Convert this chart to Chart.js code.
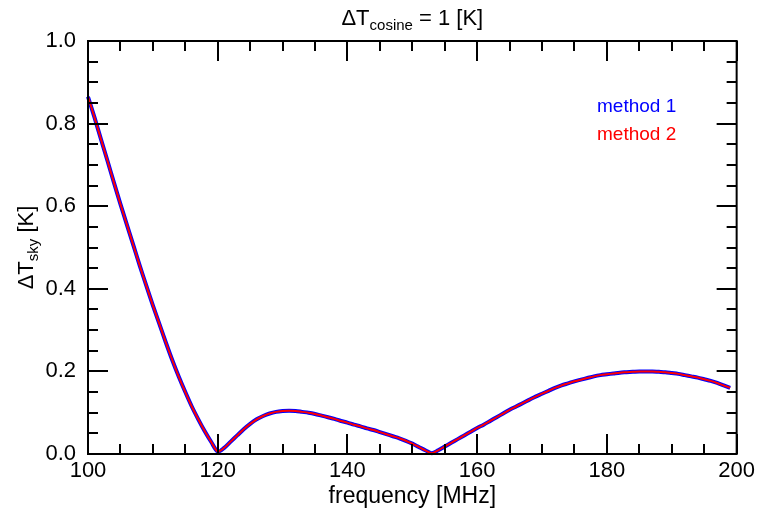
<!DOCTYPE html>
<html>
<head>
<meta charset="utf-8">
<script src="https://cdn.jsdelivr.net/npm/chart.js@4.4.1/dist/chart.umd.min.js"></script>
<style>
  body { margin: 0; background: #fff; }
  #wrap { width: 759px; height: 517px; }
</style>
</head>
<body>
<div id="wrap"><canvas id="skyChart" width="759" height="517"></canvas></div>
<script>
// frequency grid in MHz
const frequencies = [
  100, 101, 102, 103, 104, 105, 106, 107, 108, 109,
  110, 111, 112, 113, 114, 115, 116, 117, 118, 119,
  120, 121, 122, 123, 124, 125, 126, 127, 128, 129,
  130, 131, 132, 133, 134, 135, 136, 137, 138, 139,
  140, 141, 142, 143, 144, 145, 146, 147, 148, 149,
  150, 151, 152, 153, 154, 155, 156, 157, 158, 159,
  160, 161, 162, 163, 164, 165, 166, 167, 168, 169,
  170, 171, 172, 173, 174, 175, 176, 177, 178, 179,
  180, 181, 182, 183, 184, 185, 186, 187, 188, 189,
  190, 191, 192, 193, 194, 195, 196, 197, 198, 199
];

// delta T sky [K], method 1
const methodOne = [
  0.865, 0.815, 0.762, 0.710, 0.657, 0.605, 0.555, 0.505, 0.455, 0.407,
  0.360, 0.315, 0.270, 0.227, 0.187, 0.150, 0.115, 0.084, 0.055, 0.029,
  0.006, 0.015, 0.030, 0.045, 0.060, 0.073, 0.084, 0.092, 0.098, 0.102,
  0.104, 0.105, 0.104, 0.102, 0.100, 0.097, 0.093, 0.089, 0.085, 0.080,
  0.076, 0.071, 0.067, 0.062, 0.058, 0.053, 0.048, 0.043, 0.038, 0.032,
  0.025, 0.017, 0.009, 0.002, 0.009, 0.018, 0.027, 0.036, 0.045, 0.054,
  0.063, 0.071, 0.080, 0.089, 0.098, 0.107, 0.115, 0.123, 0.131, 0.139,
  0.146, 0.153, 0.160, 0.166, 0.171, 0.176, 0.180, 0.184, 0.188, 0.191,
  0.193, 0.195, 0.197, 0.198, 0.199, 0.200, 0.200, 0.200, 0.199, 0.198,
  0.196, 0.194, 0.191, 0.188, 0.185, 0.181, 0.177, 0.172, 0.166, 0.160
];

// delta T sky [K], method 2 (lies on top of method 1)
const methodTwo = [
  0.865, 0.815, 0.762, 0.710, 0.657, 0.605, 0.555, 0.505, 0.455, 0.407,
  0.360, 0.315, 0.270, 0.227, 0.187, 0.150, 0.115, 0.084, 0.055, 0.029,
  0.006, 0.015, 0.030, 0.045, 0.060, 0.073, 0.084, 0.092, 0.098, 0.102,
  0.104, 0.105, 0.104, 0.102, 0.100, 0.097, 0.093, 0.089, 0.085, 0.080,
  0.076, 0.071, 0.067, 0.062, 0.058, 0.053, 0.048, 0.043, 0.038, 0.032,
  0.025, 0.017, 0.009, 0.002, 0.009, 0.018, 0.027, 0.036, 0.045, 0.054,
  0.063, 0.071, 0.080, 0.089, 0.098, 0.107, 0.115, 0.123, 0.131, 0.139,
  0.146, 0.153, 0.160, 0.166, 0.171, 0.176, 0.180, 0.184, 0.188, 0.191,
  0.193, 0.195, 0.197, 0.198, 0.199, 0.200, 0.200, 0.200, 0.199, 0.198,
  0.196, 0.194, 0.191, 0.188, 0.185, 0.181, 0.177, 0.172, 0.166, 0.160
];

const seriesNames = ['method 1', 'method 2'];
const seriesColors = ['#0000ff', '#ff0000'];

const FONT = '"Liberation Sans", Arial, Helvetica, sans-serif';

function toPoints(values) {
  return frequencies.map((f, i) => ({ x: f, y: values[i] }));
}

// box with inward major/minor ticks on all four sides, plus title, axis titles and text legend
const framePlugin = {
  id: 'frame',
  afterDatasetsDraw(chart) {
    const ctx = chart.ctx;
    const area = chart.chartArea;
    const xs = chart.scales.x;
    const ys = chart.scales.y;
    ctx.save();
    ctx.strokeStyle = '#000';
    ctx.lineWidth = 2;
    ctx.strokeRect(area.left, area.top, area.right - area.left, area.bottom - area.top);

    ctx.beginPath();
    for (let v = xs.min; v <= xs.max + 0.001; v += 5) {
      const px = Math.round(xs.getPixelForValue(v));
      const len = (Math.round(v) % 20 === 0) ? 20 : 10;
      ctx.moveTo(px, area.bottom); ctx.lineTo(px, area.bottom - len);
      ctx.moveTo(px, area.top); ctx.lineTo(px, area.top + len);
    }
    for (let k = 0; k <= 20; k++) {
      const v = k * 0.05;
      const py = Math.round(ys.getPixelForValue(v));
      const len = (k % 4 === 0) ? 20 : 10;
      ctx.moveTo(area.left, py); ctx.lineTo(area.left + len, py);
      ctx.moveTo(area.right, py); ctx.lineTo(area.right - len, py);
    }
    ctx.stroke();
    ctx.restore();
  },
  afterDraw(chart) {
    const ctx = chart.ctx;
    const area = chart.chartArea;
    const cx = (area.left + area.right) / 2;
    ctx.save();
    ctx.fillStyle = '#000';
    ctx.textBaseline = 'alphabetic';

    // title: ΔT_cosine = 1 [K]
    const big = '22px ' + FONT, small = '15px ' + FONT;
    ctx.font = big; const w1 = ctx.measureText('\u0394T').width;
    ctx.font = small; const w2 = ctx.measureText('cosine').width;
    ctx.font = big; const w3 = ctx.measureText(' = 1 [K]').width;
    let x0 = cx - (w1 + w2 + w3) / 2;
    ctx.textAlign = 'left';
    ctx.font = big; ctx.fillText('\u0394T', x0, 25);
    ctx.font = small; ctx.fillText('cosine', x0 + w1, 30);
    ctx.font = big; ctx.fillText(' = 1 [K]', x0 + w1 + w2, 25);

    // x axis title
    ctx.textAlign = 'center';
    ctx.font = '23px ' + FONT;
    ctx.fillText('frequency [MHz]', cx, 503);

    // y axis title: ΔT_sky [K]
    const cy = (area.top + area.bottom) / 2;
    ctx.translate(33, cy);
    ctx.rotate(-Math.PI / 2);
    ctx.font = big; const a1 = ctx.measureText('\u0394T').width;
    ctx.font = small; const a2 = ctx.measureText('sky').width;
    ctx.font = big; const a3 = ctx.measureText(' [K]').width;
    x0 = -(a1 + a2 + a3) / 2;
    ctx.textAlign = 'left';
    ctx.font = big; ctx.fillText('\u0394T', x0, 0);
    ctx.font = small; ctx.fillText('sky', x0 + a1, 5);
    ctx.font = big; ctx.fillText(' [K]', x0 + a1 + a2, 0);
    ctx.restore();

    // legend as coloured text
    ctx.save();
    ctx.font = '19px ' + FONT;
    ctx.textAlign = 'left';
    seriesNames.forEach((name, i) => {
      ctx.fillStyle = seriesColors[i];
      ctx.fillText(name, 597, 112 + i * 28);
    });
    ctx.restore();
  }
};

const ctx = document.getElementById('skyChart').getContext('2d');
const skyChart = new Chart(ctx, {
  type: 'line',
  data: {
    datasets: [
      {
        label: seriesNames[0],
        data: toPoints(methodOne),
        borderColor: seriesColors[0],
        borderWidth: 4,
        pointRadius: 0,
        tension: 0.3,
        fill: false,
        clip: false,
        order: 2
      },
      {
        label: seriesNames[1],
        data: toPoints(methodTwo),
        borderColor: seriesColors[1],
        borderWidth: 2,
        pointRadius: 0,
        tension: 0.3,
        fill: false,
        clip: false,
        order: 1
      }
    ]
  },
  options: {
    responsive: false,
    animation: false,
    layout: { padding: { top: 41, right: 21, left: 0, bottom: 0 } },
    plugins: {
      legend: { display: false },
      tooltip: { enabled: false },
      title: { display: false }
    },
    scales: {
      x: {
        type: 'linear',
        min: 100,
        max: 200,
        grid: { display: false, drawTicks: false },
        border: { display: false },
        ticks: {
          stepSize: 20,
          color: '#000',
          padding: 4,
          maxRotation: 0,
          font: { family: FONT, size: 22 }
        },
        afterFit(scale) { scale.height = 63; }
      },
      y: {
        min: 0,
        max: 1,
        grid: { display: false, drawTicks: false },
        border: { display: false },
        ticks: {
          stepSize: 0.2,
          color: '#000',
          padding: 12,
          font: { family: FONT, size: 22 },
          callback: (v) => Number(v).toFixed(1)
        },
        afterFit(scale) { scale.width = 88; }
      }
    }
  },
  plugins: [framePlugin]
});
</script>
</body>
</html>
